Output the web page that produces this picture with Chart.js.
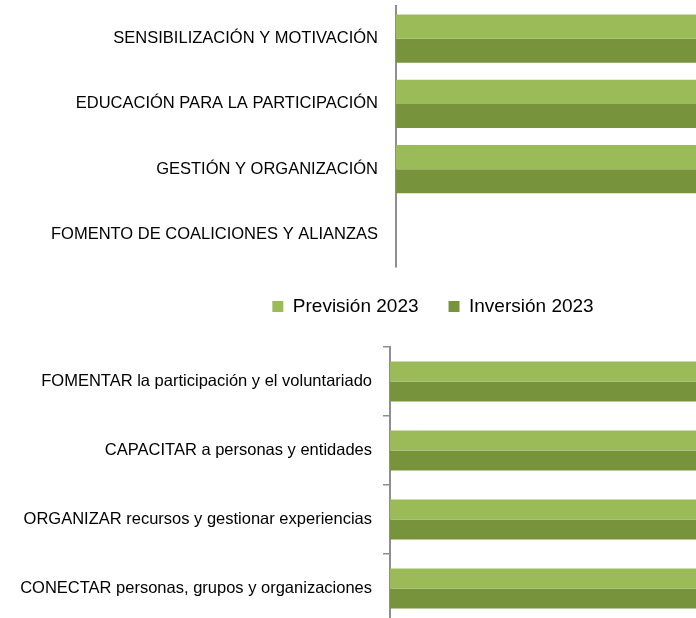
<!DOCTYPE html>
<html>
<head>
<meta charset="utf-8">
<script src="https://cdn.jsdelivr.net/npm/chart.js@4"></script>
<style>
  html, body { margin: 0; padding: 0; background: #fff; overflow: hidden; }
  canvas { display: block; }
</style>
</head>
<body>
<canvas id="topChart" width="866" height="330"></canvas>
<canvas id="bottomChart" width="696" height="293"></canvas>
<script>
const topLabels = [
    'SENSIBILIZACIÓN Y MOTIVACIÓN',
    'EDUCACIÓN PARA LA PARTICIPACIÓN',
    'GESTIÓN Y ORGANIZACIÓN',
    'FOMENTO DE COALICIONES Y ALIANZAS'
];
const topPrevision = [100, 100, 100, 0];
const topInversion = [100, 100, 100, 0];

const bottomLabels = [
    'FOMENTAR la participación y el voluntariado',
    'CAPACITAR a personas y entidades',
    'ORGANIZAR recursos y gestionar experiencias',
    'CONECTAR personas, grupos y organizaciones'
];
const bottomPrevision = [100, 100, 100, 100];
const bottomInversion = [100, 100, 100, 100];

const seriesNames = ['Previsión 2023', 'Inversión 2023'];
const lightGreen = '#9bbb59';
const darkGreen = '#77933c';
const axisGray = '#8f8f8f';
const font = 'Liberation Sans, Arial, sans-serif';

Chart.defaults.font.family = font;
Chart.defaults.color = '#000';

function makeChart(id, labels, prev, inv, opts) {
    const ctx = document.getElementById(id).getContext('2d');
    return new Chart(ctx, {
        type: 'bar',
        data: {
            labels: labels,
            datasets: [
                { label: seriesNames[0], data: prev, backgroundColor: lightGreen },
                { label: seriesNames[1], data: inv, backgroundColor: darkGreen }
            ]
        },
        options: {
            indexAxis: 'y',
            responsive: false,
            animation: false,
            devicePixelRatio: 1,
            layout: { padding: opts.padding },
            datasets: {
                bar: { categoryPercentage: opts.catPct, barPercentage: 1 }
            },
            plugins: {
                tooltip: { enabled: false },
                legend: {
                    display: opts.legend,
                    position: 'bottom',
                    labels: {
                        boxWidth: 11,
                        boxHeight: 11,
                        padding: 30,
                        color: '#000',
                        font: { size: 19, family: font }
                    }
                }
            },
            scales: {
                x: { display: false, min: 0, max: 100 },
                y: {
                    afterFit: function (scale) {
                        // fixed axis position, no extra label padding at the ends
                        scale.width = opts.axisX;
                        scale.paddingTop = 0;
                        scale.paddingBottom = 0;
                    },
                    grid: {
                        display: opts.tickLen > 0,
                        drawOnChartArea: false,
                        tickLength: opts.tickLen,
                        color: axisGray,
                        lineWidth: 1.5
                    },
                    border: { display: true, color: axisGray, width: 2 },
                    ticks: {
                        padding: opts.tickPad,
                        color: '#000',
                        font: { size: 16.5, family: font }
                    }
                }
            }
        }
    });
}

makeChart('topChart', topLabels, topPrevision, topInversion, {
    padding: { top: 6, bottom: 4, left: 0, right: 0 },
    catPct: 0.74,
    legend: true,
    axisX: 396,
    tickLen: 0,
    tickPad: 18
});

makeChart('bottomChart', bottomLabels, bottomPrevision, bottomInversion, {
    padding: { top: 17, bottom: 0, left: 0, right: 0 },
    catPct: 0.58,
    legend: false,
    axisX: 390,
    tickLen: 7,
    tickPad: 11
});
</script>
</body>
</html>
